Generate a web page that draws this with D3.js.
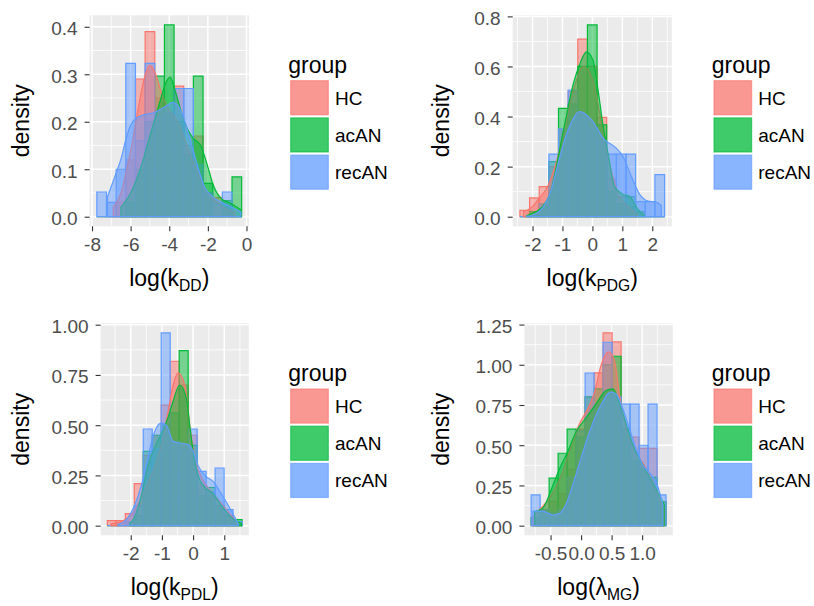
<!DOCTYPE html>
<html><head><meta charset="utf-8">
<script src="https://cdn.jsdelivr.net/npm/d3@7"></script>
<style>
body{margin:0;background:#fff}
svg{display:block}
text{font-family:"Liberation Sans",Arial,sans-serif}
</style>
</head><body>
<svg id="c" width="814" height="606"></svg>
<script>
// ---------- data ----------
const groups = ["HC", "acAN", "recAN"];
const groupColors = ["#F8766D", "#00BA38", "#619CFF"];

// Panel 1: log(k_DD)
const p1BinStart = -7.75, p1BinWidth = 0.5;
const p1HistHC    = [0, 0, 0.03, 0.12, 0.29, 0.39, 0.25, 0.22, 0.275, 0.15, 0.17, 0.05, 0.04, 0.02, 0];
const p1HistAcAN  = [0, 0, 0, 0.03, 0.10, 0.20, 0.296, 0.404, 0.20, 0.13, 0.296, 0.07, 0, 0.034, 0.084];
const p1HistRecAN = [0.052, 0.03, 0.10, 0.323, 0.16, 0.323, 0.21, 0.22, 0.27, 0.27, 0.11, 0.05, 0.027, 0.052, 0];
const p1DensHCx    = [-6.9, -6.5, -6.2, -5.9, -5.6, -5.3, -5.0, -4.7, -4.4, -4.0, -3.5, -3.0, -2.5, -2.0, -1.5, -1.0, -0.6];
const p1DensHCy    = [0.02, 0.05, 0.10, 0.16, 0.23, 0.29, 0.318, 0.30, 0.26, 0.225, 0.195, 0.14, 0.09, 0.05, 0.03, 0.015, 0.01];
const p1DensAcANx  = [-6.5, -6.0, -5.5, -5.0, -4.5, -4.2, -3.95, -3.7, -3.3, -3.0, -2.73, -2.4, -2.0, -1.75, -1.3, -0.8, -0.27];
const p1DensAcANy  = [0.02, 0.05, 0.10, 0.17, 0.24, 0.28, 0.294, 0.266, 0.21, 0.18, 0.164, 0.152, 0.105, 0.07, 0.038, 0.028, 0.014];
const p1DensRecANx = [-7.2, -6.76, -6.47, -6.26, -6.04, -5.61, -4.75, -4.24, -3.81, -3.55, -3.21, -2.86, -2.52, -2.18, -1.84, -1.32, -0.81, -0.29];
const p1DensRecANy = [0.042, 0.091, 0.126, 0.161, 0.189, 0.21, 0.22, 0.231, 0.241, 0.234, 0.203, 0.154, 0.105, 0.063, 0.045, 0.031, 0.021, 0.01];
const p1XTicks = [-8, -6, -4, -2, 0];
const p1XLabels = ["-8", "-6", "-4", "-2", "0"];
const p1YTicks = [0, 0.1, 0.2, 0.3, 0.4];
const p1YLabels = ["0.0", "0.1", "0.2", "0.3", "0.4"];

// Panel 2: log(k_PDG)
const p2BinStart = -2.42, p2BinWidth = 0.322;
const p2HistHC    = [0.025, 0.075, 0.12, 0.20, 0.35, 0.50, 0.709, 0.60, 0.397, 0.15, 0.08, 0.04, 0.02, 0, 0];
const p2HistAcAN  = [0, 0.02, 0.05, 0.22, 0.433, 0.45, 0.60, 0.766, 0.367, 0.10, 0.05, 0.08, 0.02, 0, 0];
const p2HistRecAN = [0, 0, 0.05, 0.25, 0.35, 0.506, 0.40, 0.35, 0.30, 0.25, 0.25, 0.25, 0.06, 0.06, 0.168];
const p2DensHCx    = [-2.3, -2.0, -1.8, -1.5, -1.2, -0.9, -0.6, -0.3, 0.0, 0.3, 0.6, 0.9, 1.2, 1.5];
const p2DensHCy    = [0.02, 0.04, 0.07, 0.12, 0.22, 0.37, 0.52, 0.60, 0.55, 0.38, 0.20, 0.08, 0.04, 0.01];
const p2DensAcANx  = [-2.2, -2.03, -1.7, -1.37, -1.14, -0.92, -0.64, -0.42, -0.2, 0.02, 0.19, 0.36, 0.52, 0.74, 1.02, 1.24, 1.52, 1.74];
const p2DensAcANy  = [0.005, 0.013, 0.036, 0.11, 0.24, 0.373, 0.53, 0.61, 0.658, 0.625, 0.506, 0.36, 0.254, 0.12, 0.089, 0.082, 0.029, 0.005];
const p2DensRecANx = [-2.2, -2.03, -1.7, -1.37, -1.14, -0.81, -0.42, -0.03, 0.41, 0.74, 1.02, 1.3, 1.58, 1.86, 2.13, 2.3];
const p2DensRecANy = [0.002, 0.005, 0.03, 0.109, 0.215, 0.347, 0.42, 0.387, 0.307, 0.28, 0.241, 0.162, 0.089, 0.062, 0.058, 0.045];
const p2XTicks = [-2, -1, 0, 1, 2];
const p2XLabels = ["-2", "-1", "0", "1", "2"];
const p2YTicks = [0, 0.2, 0.4, 0.6, 0.8];
const p2YLabels = ["0.0", "0.2", "0.4", "0.6", "0.8"];

// Panel 3: log(k_PDL)
const p3BinStart = -2.75, p3BinWidth = 0.288;
const p3HistHC    = [0.025, 0.025, 0.06, 0.209, 0.35, 0.45, 0.60, 0.818, 0.70, 0.45, 0.20, 0.15, 0.10, 0.05, 0];
const p3HistAcAN  = [0, 0, 0, 0.05, 0.37, 0.45, 0.50, 0.56, 0.871, 0.40, 0.15, 0.19, 0.10, 0.05, 0.03];
const p3HistRecAN = [0, 0, 0.02, 0.10, 0.481, 0.38, 0.959, 0.42, 0.38, 0.481, 0.27, 0.17, 0.287, 0.08, 0.02];
const p3DensHCx    = [-2.63, -2.3, -1.98, -1.66, -1.34, -1.02, -0.8, -0.64, -0.48, -0.27, -0.1, 0.05, 0.27, 0.59, 0.91, 1.23, 1.45];
const p3DensHCy    = [0.01, 0.02, 0.055, 0.14, 0.25, 0.40, 0.57, 0.70, 0.76, 0.70, 0.49, 0.34, 0.24, 0.17, 0.11, 0.05, 0.01];
const p3DensAcANx  = [-2.04, -1.88, -1.66, -1.45, -1.2, -0.95, -0.8, -0.64, -0.43, -0.21, -0.1, 0.0, 0.16, 0.38, 0.64, 0.91, 1.23, 1.55];
const p3DensAcANy  = [0.01, 0.04, 0.15, 0.30, 0.40, 0.48, 0.54, 0.62, 0.70, 0.63, 0.49, 0.37, 0.25, 0.19, 0.16, 0.10, 0.04, 0.01];
const p3DensRecANx = [-2.41, -2.09, -1.88, -1.66, -1.45, -1.23, -1.02, -0.86, -0.64, -0.38, -0.16, 0.0, 0.16, 0.38, 0.64, 0.86, 1.13, 1.34, 1.45];
const p3DensRecANy = [0.005, 0.04, 0.10, 0.20, 0.34, 0.47, 0.51, 0.50, 0.42, 0.41, 0.403, 0.37, 0.30, 0.25, 0.22, 0.17, 0.10, 0.04, 0.01];
const p3XTicks = [-2, -1, 0, 1];
const p3XLabels = ["-2", "-1", "0", "1"];
const p3YTicks = [0, 0.25, 0.5, 0.75, 1.0];
const p3YLabels = ["0.00", "0.25", "0.50", "0.75", "1.00"];

// Panel 4: log(lambda_MG)
const p4BinStart = -0.818, p4BinWidth = 0.1473;
const p4HistHC    = [0.05, 0.10, 0.15, 0.20, 0.35, 0.60, 0.80, 0.95, 1.198, 1.142, 0.60, 0.55, 0.48, 0.48, 0.15];
const p4HistAcAN  = [0.05, 0.10, 0.295, 0.45, 0.60, 0.55, 0.80, 0.85, 1.00, 1.053, 0.60, 0.40, 0.35, 0.30, 0.15];
const p4HistRecAN = [0.191, 0.10, 0.08, 0.10, 0.30, 0.59, 0.949, 0.75, 1.14, 0.80, 0.756, 0.756, 0.50, 0.756, 0.191];
const p4DensHCx    = [-0.79, -0.68, -0.52, -0.35, -0.19, -0.03, 0.14, 0.22, 0.33, 0.45, 0.55, 0.63, 0.74, 0.9, 1.06, 1.2, 1.28, 1.36];
const p4DensHCy    = [0.056, 0.10, 0.17, 0.29, 0.46, 0.63, 0.75, 0.83, 1.00, 1.08, 1.02, 0.81, 0.60, 0.46, 0.357, 0.25, 0.17, 0.10];
const p4DensAcANx  = [-0.76, -0.63, -0.46, -0.35, -0.22, -0.08, 0.08, 0.25, 0.41, 0.52, 0.63, 0.74, 0.85, 1.01, 1.17, 1.28, 1.36];
const p4DensAcANy  = [0.087, 0.108, 0.253, 0.357, 0.46, 0.585, 0.67, 0.76, 0.84, 0.85, 0.76, 0.63, 0.50, 0.38, 0.27, 0.19, 0.13];
const p4DensRecANx = [-0.79, -0.63, -0.46, -0.35, -0.25, -0.14, 0.0, 0.14, 0.3, 0.49, 0.57, 0.68, 0.79, 0.9, 1.01, 1.15, 1.25, 1.34];
const p4DensRecANy = [0.091, 0.09, 0.066, 0.077, 0.13, 0.25, 0.42, 0.585, 0.73, 0.83, 0.82, 0.73, 0.606, 0.48, 0.378, 0.316, 0.25, 0.13];
const p4XTicks = [-0.5, 0, 0.5, 1.0];
const p4XLabels = ["-0.5", "0.0", "0.5", "1.0"];
const p4YTicks = [0, 0.25, 0.5, 0.75, 1.0, 1.25];
const p4YLabels = ["0.00", "0.25", "0.50", "0.75", "1.00", "1.25"];

const xTitleMain = ["log(k", "log(k", "log(k", "log(\u03BB"];
const xTitleSub  = ["DD", "PDG", "PDL", "MG"];
const yTitle = "density";
const legendTitle = "group";

// ---------- layout (pixels) ----------
const panelRects = [
  {l: 89.6, t: 15.3, r: 248.9, b: 226.3, yt: 28.5, legX: 288.3, keyX: 290, keyTop: 80},
  {l: 512.7, t: 15.3, r: 671.8, b: 226.3, yt: 448.5, legX: 711.7, keyX: 713.3, keyTop: 80},
  {l: 100.6, t: 323.3, r: 248.8, b: 535.3, yt: 28.5, legX: 288.3, keyX: 290, keyTop: 388.3},
  {l: 524.4, t: 323.3, r: 672.8, b: 535.3, yt: 448.5, legX: 711.7, keyX: 713.3, keyTop: 388.3}
];

const panels = [
  {binStart: p1BinStart, binWidth: p1BinWidth, hist: [p1HistHC, p1HistAcAN, p1HistRecAN],
   densX: [p1DensHCx, p1DensAcANx, p1DensRecANx], densY: [p1DensHCy, p1DensAcANy, p1DensRecANy],
   xTicks: p1XTicks, xLabels: p1XLabels, yTicks: p1YTicks, yLabels: p1YLabels},
  {binStart: p2BinStart, binWidth: p2BinWidth, hist: [p2HistHC, p2HistAcAN, p2HistRecAN],
   densX: [p2DensHCx, p2DensAcANx, p2DensRecANx], densY: [p2DensHCy, p2DensAcANy, p2DensRecANy],
   xTicks: p2XTicks, xLabels: p2XLabels, yTicks: p2YTicks, yLabels: p2YLabels},
  {binStart: p3BinStart, binWidth: p3BinWidth, hist: [p3HistHC, p3HistAcAN, p3HistRecAN],
   densX: [p3DensHCx, p3DensAcANx, p3DensRecANx], densY: [p3DensHCy, p3DensAcANy, p3DensRecANy],
   xTicks: p3XTicks, xLabels: p3XLabels, yTicks: p3YTicks, yLabels: p3YLabels},
  {binStart: p4BinStart, binWidth: p4BinWidth, hist: [p4HistHC, p4HistAcAN, p4HistRecAN],
   densX: [p4DensHCx, p4DensAcANx, p4DensRecANx], densY: [p4DensHCy, p4DensAcANy, p4DensRecANy],
   xTicks: p4XTicks, xLabels: p4XLabels, yTicks: p4YTicks, yLabels: p4YLabels}
];

const svg = d3.select("#c");
svg.append("rect").attr("width", 814).attr("height", 606).attr("fill", "#fff");

const TICK_FS = 19, TITLE_FS = 23;

function minorsOf(ticks, dom) {
  const step = ticks[1] - ticks[0];
  const out = [];
  for (let v = ticks[0] - step / 2; v <= dom[1] + 1e-9; v += step) {
    if (v >= dom[0] && v <= dom[1]) out.push(v);
  }
  return out;
}

panels.forEach((p, pi) => {
  const R = panelRects[pi];
  const g = svg.append("g");
  const nb = p.hist[0].length;
  const ext = p.binWidth * nb;
  const x0 = p.binStart, x1 = p.binStart + ext;
  const x = d3.scaleLinear().domain([x0 - 0.05 * ext, x1 + 0.05 * ext]).range([R.l, R.r]);
  const ymax = d3.max([].concat(...p.hist, ...p.densY));
  const y = d3.scaleLinear().domain([-0.05 * ymax, 1.05 * ymax]).range([R.b, R.t]);

  g.append("rect").attr("x", R.l).attr("y", R.t).attr("width", R.r - R.l).attr("height", R.b - R.t)
    .attr("fill", "#EBEBEB");

  // grid
  const xd = x.domain(), yd = y.domain();
  minorsOf(p.xTicks, xd).forEach(v => g.append("line").attr("x1", x(v)).attr("x2", x(v))
    .attr("y1", R.t).attr("y2", R.b).attr("stroke", "#fff").attr("stroke-width", 0.8));
  minorsOf(p.yTicks, yd).forEach(v => g.append("line").attr("y1", y(v)).attr("y2", y(v))
    .attr("x1", R.l).attr("x2", R.r).attr("stroke", "#fff").attr("stroke-width", 0.8));
  p.xTicks.forEach(v => g.append("line").attr("x1", x(v)).attr("x2", x(v))
    .attr("y1", R.t).attr("y2", R.b).attr("stroke", "#fff").attr("stroke-width", 1.5));
  p.yTicks.forEach(v => g.append("line").attr("y1", y(v)).attr("y2", y(v))
    .attr("x1", R.l).attr("x2", R.r).attr("stroke", "#fff").attr("stroke-width", 1.5));

  // histograms
  p.hist.forEach((vals, gi) => {
    const bins = vals.map((v, i) => ({a: p.binStart + i * p.binWidth, b: p.binStart + (i + 1) * p.binWidth, v}));
    g.append("g").selectAll("path").data(bins).join("path")
      .attr("d", d => `M${x(d.a)},${y(0)}V${y(d.v)}H${x(d.b)}V${y(0)}Z`)
      .attr("fill", groupColors[gi]).attr("fill-opacity", 0.5)
      .attr("stroke", groupColors[gi]).attr("stroke-width", 1.2);
  });

  // densities
  const area = d3.area().x(d => x(d[0])).y0(y(0)).y1(d => y(d[1])).curve(d3.curveMonotoneX);
  p.densX.forEach((xs, gi) => {
    const pts = xs.map((xv, i) => [xv, p.densY[gi][i]]);
    g.append("path").attr("d", area(pts) )
      .attr("fill", groupColors[gi]).attr("fill-opacity", 0.5)
      .attr("stroke", groupColors[gi]).attr("stroke-width", 1.2);
  });

  // axes
  const ax = g.append("g").attr("transform", `translate(0,${R.b})`)
    .call(d3.axisBottom(x).tickValues(p.xTicks).tickFormat((d, i) => p.xLabels[i]).tickSize(5).tickPadding(6));
  const ay = g.append("g").attr("transform", `translate(${R.l},0)`)
    .call(d3.axisLeft(y).tickValues(p.yTicks).tickFormat((d, i) => p.yLabels[i]).tickSize(5).tickPadding(7));
  [ax, ay].forEach(a => {
    a.select(".domain").remove();
    a.selectAll(".tick line").attr("stroke", "#333333").attr("stroke-width", 1.1);
    a.selectAll(".tick text").attr("fill", "#4D4D4D").attr("font-size", TICK_FS)
      .attr("font-family", "Liberation Sans, Arial, sans-serif");
  });
  ay.selectAll(".tick text").attr("dy", "0.42em");

  // axis titles
  const xt = g.append("text").attr("x", (R.l + R.r) / 2).attr("y", R.b + 60)
    .attr("text-anchor", "middle").attr("font-size", TITLE_FS).attr("fill", "#000");
  xt.append("tspan").text(xTitleMain[pi]);
  xt.append("tspan").attr("font-size", TITLE_FS * 0.68).attr("dy", 5).text(xTitleSub[pi]);
  xt.append("tspan").attr("dy", -5).text(")");

  g.append("text").attr("transform", `translate(${R.yt},${(R.t + R.b) / 2}) rotate(-90)`)
    .attr("text-anchor", "middle").attr("font-size", TITLE_FS).attr("fill", "#000").text(yTitle);

  // legend
  const lg = svg.append("g");
  lg.append("text").attr("x", R.legX).attr("y", R.keyTop - 7.5).attr("font-size", TITLE_FS)
    .attr("fill", "#000").text(legendTitle);
  groups.forEach((name, gi) => {
    const ky = R.keyTop + gi * 37.2;
    lg.append("rect").attr("x", R.keyX).attr("y", ky).attr("width", 39).attr("height", 35.5).attr("fill", "#fff");
    for (let k = 0; k < 2; k++) {
      lg.append("rect").attr("x", R.keyX + 0.7).attr("y", ky + 0.7).attr("width", 37.6).attr("height", 34.1)
        .attr("fill", groupColors[gi]).attr("fill-opacity", 0.5)
        .attr("stroke", groupColors[gi]).attr("stroke-opacity", 0.35).attr("stroke-width", 1.2);
    }
    lg.append("text").attr("x", R.keyX + 45).attr("y", ky + 17.75).attr("dy", "0.36em")
      .attr("font-size", TICK_FS).attr("fill", "#000").text(name);
  });
});
</script>
</body></html>
